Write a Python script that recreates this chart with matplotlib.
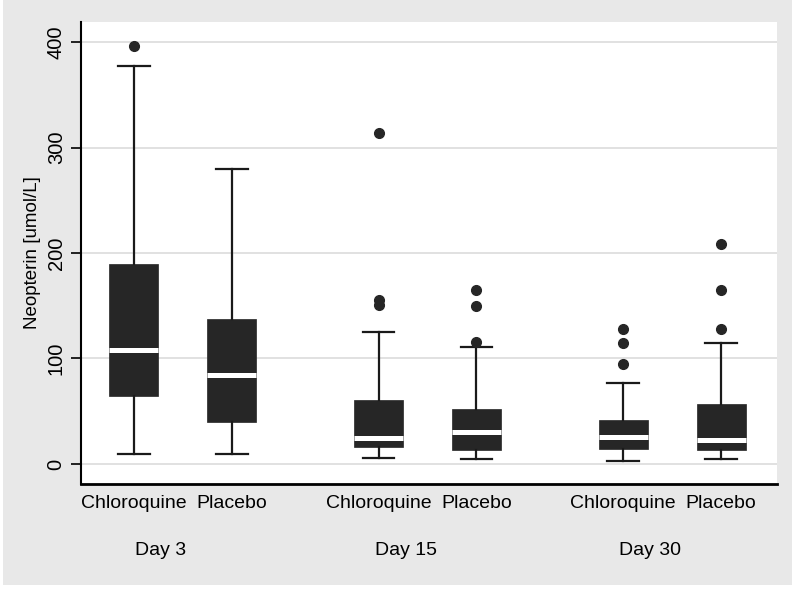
import matplotlib
matplotlib.use("Agg")
import matplotlib.pyplot as plt
from matplotlib.patches import Rectangle

# values
groepen = ["Chloroquine", "Placebo", "Chloroquine", "Placebo", "Chloroquine", "Placebo"]
dias = ["Day 3", "Day 15", "Day 30"]
posiciones = [1, 3, 6, 8, 11, 13]
centros_dia = [2, 7, 12]

bigote_inf = [9.5, 9.5, 6, 5, 3, 5]
q1 = [64, 40, 16, 13, 14, 13]
mediana = [108.5, 84, 25, 30, 26, 23]
q3 = [189.5, 137, 61, 52, 42, 57]
bigote_sup = [377, 280, 125, 111, 77, 115]
atipicos = [[396], [], [314, 155, 151], [165, 150, 116], [128, 115, 95], [209, 165, 128]]

yticks = [0, 100, 200, 300, 400]

plt.rcParams['font.family'] = ['Liberation Sans', 'DejaVu Sans']

fig = plt.figure(figsize=(8, 5.91), dpi=100)
fig.patch.set_facecolor('white')
fig.patches.append(Rectangle((3 / 800, 1 - 585 / 591), 789 / 800, 585 / 591,
                             transform=fig.transFigure, facecolor='#e8e8e8',
                             edgecolor='none', zorder=-10))
ax = fig.add_axes([81 / 800, 1 - 484 / 591, 696 / 800, 462 / 591])
ax.set_facecolor('white')

stats = []
for i in range(len(groepen)):
    stats.append({'whislo': bigote_inf[i], 'q1': q1[i], 'med': mediana[i],
                  'q3': q3[i], 'whishi': bigote_sup[i], 'fliers': atipicos[i]})

ax.bxp(stats, positions=posiciones, widths=1.0, patch_artist=True,
       boxprops=dict(facecolor='#262626', edgecolor='#262626', linewidth=0.5),
       medianprops=dict(color='white', linewidth=3.6, solid_capstyle='butt'),
       whiskerprops=dict(color='#1a1a1a', linewidth=1.6),
       capprops=dict(color='#1a1a1a', linewidth=1.6),
       flierprops=dict(marker='o', markerfacecolor='#262626', markeredgecolor='#262626',
                       markersize=7),
       capwidths=0.65, zorder=3)

ax.set_xlim(-0.08, 14.14)
ax.set_ylim(-19, 419)
ax.set_yticks(yticks)
ax.set_yticklabels([str(t) for t in yticks], rotation=90, va='center', fontsize=14.5)
ax.set_xticks(posiciones)
ax.set_xticklabels(groepen, fontsize=14)
ax.tick_params(axis='x', length=0, pad=8)
ax.tick_params(axis='y', length=7, width=1.2, pad=4)
ax.set_ylabel('Neopterin [umol/L]', fontsize=13.5, labelpad=4)

ax.grid(axis='y', color='#dedede', linewidth=1.3, zorder=0)
ax.set_axisbelow(True)
for lado in ['top', 'right']:
    ax.spines[lado].set_visible(False)
ax.spines['left'].set_linewidth(1.5)
ax.spines['bottom'].set_linewidth(2)

for c, d in zip(centros_dia, dias):
    ax.text(c - 0.45, -0.145, d, transform=ax.get_xaxis_transform(),
            ha='center', va='center', fontsize=14)

fig.savefig('out.png', dpi=100, facecolor=fig.get_facecolor())
